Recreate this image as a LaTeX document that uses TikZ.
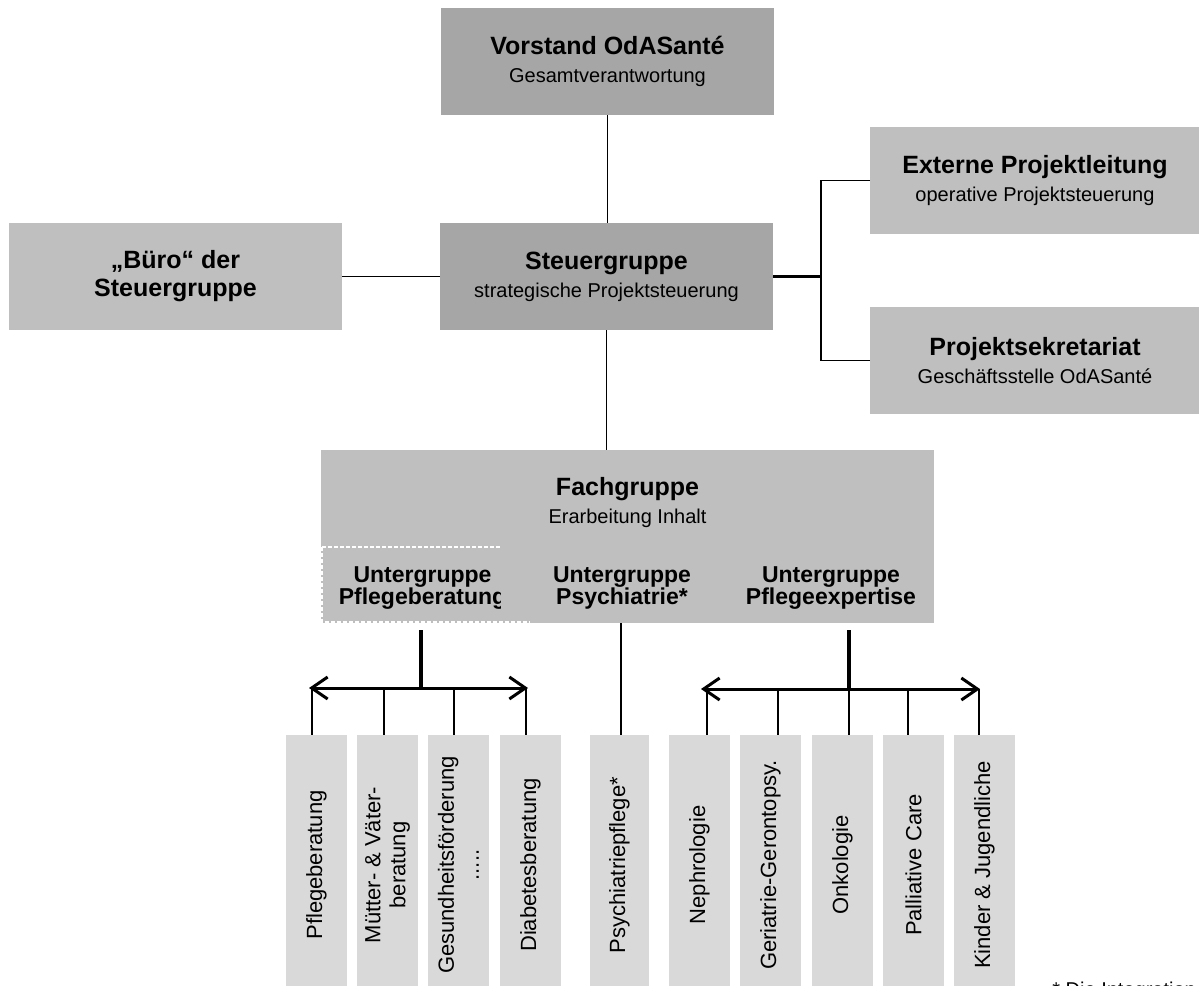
\documentclass[tikz,border=0pt]{standalone}
\usepackage{fontspec}
\setmainfont{Liberation Sans}
\usepackage{xcolor}
\usepackage{tikz}
\usetikzlibrary{arrows.meta,calc,positioning}

\definecolor{dunkelgrau}{HTML}{A6A6A6}
\definecolor{mittelgrau}{HTML}{BFBFBF}
\definecolor{hellgrau}{HTML}{D9D9D9}

\newcommand{\titel}[1]{{\fontsize{12.5}{14}\selectfont\bfseries #1}}

\begin{document}
\begin{tikzpicture}[x=0.5pt, y=-0.5pt,
  box/.style={inner sep=0pt, align=center, minimum width=166.5pt, minimum height=53.5pt,
    font=\fontsize{10}{14}\selectfont},
  leitung/.style={box, fill=dunkelgrau},
  gremium/.style={box, fill=mittelgrau},
  untergr/.style={inner sep=0pt, align=center, font=\fontsize{11.5}{11}\selectfont\bfseries},
  saeule/.style={rotate=90, fill=hellgrau, inner sep=0pt, align=center,
    minimum width=130pt, minimum height=30.5pt, font=\fontsize{11}{12.5}\selectfont},
  verbindung/.style={line width=0.75pt},
  verteiler/.style={line width=1.5pt,
    {Straight Barb[length=8pt,width=11pt]}-{Straight Barb[length=8pt,width=11pt]}},
  stich/.style={line width=0.6pt}
]

  \useasboundingbox (0,0) rectangle (1199,985);
  \clip (0,0) rectangle (1199,985);

  % Leitungsebene
  \node[leitung] (vorstand) at (607.5,61.5) {\titel{Vorstand OdASanté}\\Gesamtverantwortung};
  \node[leitung] (steuer) at (606.5,276.5) {\titel{Steuergruppe}\\strategische Projektsteuerung};
  \node[gremium] (buero) at (175.5,276.5) {\titel{„Büro“ der}\\\titel{Steuergruppe}};
  \node[gremium, minimum width=165pt] (extern) at (1035,180.5)
    {\titel{Externe Projektleitung}\\operative Projektsteuerung};
  \node[gremium, minimum width=165pt] (sekr) at (1035,360.5)
    {\titel{Projektsekretariat}\\Geschäftsstelle OdASanté};

  % Fachgruppe mit Untergruppen
  \node[fill=mittelgrau, inner sep=0pt, minimum width=306.5pt, minimum height=86.5pt] (fach)
    at (627.5,536.5) {};
  \node[box, minimum width=0pt, minimum height=0pt] (fachtitel) at (627.5,503)
    {\titel{Fachgruppe}\\Erarbeitung Inhalt};
  \draw[white, line width=0.6pt, dash pattern=on 2pt off 1pt]
    (322,547) -- (500,547) (322,547) -- (322,622) -- (530,622);
  \begin{scope}
    \clip (322,540) rectangle (500,630);
    \node[untergr] (ugpb) at (422.5,588) {Untergruppe\\Pflegeberatung};
  \end{scope}
  \node[untergr] (ugps) at (622,588) {Untergruppe\\Psychiatrie*};
  \node[untergr] (ugpe) at (831,588) {Untergruppe\\Pflegeexpertise};

  % Verbindungen oben
  \draw[verbindung] (vorstand.south) -- (vorstand.south |- steuer.north);
  \draw[verbindung] (buero.east) -- (steuer.west);
  \coordinate (knick) at (821,276.5);
  \draw[line width=1.2pt] (steuer.east) -- (knick);
  \draw[verbindung] (extern.west) -| (knick) |- (sekr.west);
  \draw[verbindung] (steuer.south) -- (steuer.south |- fach.north);

  % Themen (Säulen)
  \node[saeule] (pb1) at (316.5,865) {Pflegeberatung};
  \node[saeule] (pb2) at (387.5,865) {Mütter- \& Väter-\\beratung};
  \node[saeule] (pb3) at (458.5,865) {Gesundheitsförderung\\.....};
  \node[saeule] (pb4) at (530.5,865) {Diabetesberatung};
  \node[saeule, minimum height=29.5pt] (psy) at (619.5,865) {Psychiatriepflege*};
  \node[saeule] (pe1) at (699.5,865) {Nephrologie};
  \node[saeule] (pe2) at (770.5,865) {Geriatrie-Gerontopsy.};
  \node[saeule] (pe3) at (842.5,865) {Onkologie};
  \node[saeule] (pe4) at (913.5,865) {Palliative Care};
  \node[saeule] (pe5) at (984.5,865) {Kinder \& Jugendliche};

  % Verteiler Pflegeberatung
  \coordinate (pbab) at (421,630);
  \coordinate (pbmitte) at (421,688);
  \draw[line width=2pt] (pbab) -- (pbmitte);
  \coordinate (pbl) at (309,688);
  \coordinate (pbr) at (528,688);
  \draw[verteiler] (pbl) -- (pbr);
  \coordinate (a1) at (312,688);
  \coordinate (a2) at (384,688);
  \coordinate (a3) at (454,688);
  \coordinate (a4) at (526,688);
  \draw[stich] (a1) -- (a1 |- pb1.east);
  \draw[stich] (a2) -- (a2 |- pb2.east);
  \draw[stich] (a3) -- (a3 |- pb3.east);
  \draw[stich] (a4) -- (a4 |- pb4.east);

  % Psychiatrie
  \coordinate (psyab) at (621,623);
  \draw[stich] (psyab) -- (psyab |- psy.east);

  % Verteiler Pflegeexpertise
  \coordinate (peab) at (849,630);
  \coordinate (pemitte) at (849,689);
  \draw[line width=2pt] (peab) -- (pemitte);
  \coordinate (pel) at (701,689);
  \coordinate (per) at (980,689);
  \draw[verteiler] (pel) -- (per);
  \coordinate (b1) at (707,689);
  \coordinate (b2) at (778,689);
  \coordinate (b3) at (849,689);
  \coordinate (b4) at (908,689);
  \coordinate (b5) at (979,689);
  \draw[stich] (b1) -- (b1 |- pe1.east);
  \draw[stich] (b2) -- (b2 |- pe2.east);
  \draw[stich] (b3) -- (b3 |- pe3.east);
  \draw[stich] (b4) -- (b4 |- pe4.east);
  \draw[stich] (b5) -- (b5 |- pe5.east);

  % Fussnote (angeschnitten)
  \node[anchor=base west, inner sep=0pt, font=\fontsize{10}{12}\selectfont] (fussnote)
    at (1052,996) {* Die Integration};

\end{tikzpicture}
\end{document}
